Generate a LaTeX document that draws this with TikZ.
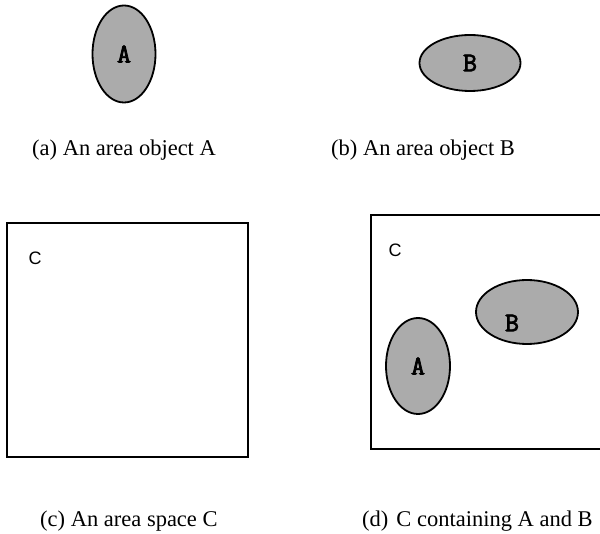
\documentclass[tikz,border=0pt]{standalone}
\usepackage{fontspec}
\setmainfont{Liberation Serif}
\newfontfamily\spacefont{Liberation Sans}
\newfontfamily\labelfont[FakeBold=3]{Latin Modern Mono}
\usetikzlibrary{shapes.geometric}
\tikzset{
	% area objects
	label text/.style={font=\labelfont\bfseries\fontsize{27}{27}\selectfont},
	area/.style={ellipse, draw, line width=1.8pt, fill=black!33, inner sep=0pt, label text},
	tall/.style={area, minimum width=63pt, minimum height=97pt},
	wide/.style={area, minimum width=101pt, minimum height=56pt},
	% area spaces
	space/.style={line width=1.3pt},
	spacename/.style={font=\spacefont\fontsize{18}{18}\selectfont},
	caption/.style={anchor=base west, inner sep=0pt, font=\fontsize{22.5}{22.5}\selectfont}
}
\begin{document}
\begin{tikzpicture}[x=1pt, y=-1pt]
	\useasboundingbox (0,0) rectangle (600,534);
	
	% (a) and (b)
	\node[tall] (A) at (124,54) {A};
	\node[wide] (B) at (470,63) {B};
	\node[caption] (capa) at (32,156) {(a) An area object A};
	\node[caption] (capb) at (331,156) {(b) An area object B};
	
	% (c)
	\draw[space] (7,223) rectangle (248,457);
	\node[spacename] (C) at (35,258) {C};
	\node[caption] (capc) at (40,526) {(c) An area space C};
	
	% (d)
	\coordinate (tr) at (608,215);
	\coordinate (br) at (608,449);
	\draw[space] (tr) -- (371,215) -- (371,449) -- (br);
	\node[spacename] (Cd) at (395,250) {C};
	\node[tall, minimum width=64pt, minimum height=96pt] (Ad) at (418,366) {A};
	\node[wide, minimum width=102pt, minimum height=64pt] (Bd) at (527,312) {};
	\node[label text] (Bdl) at (512,323) {B};
	\node[caption] (capd) at (362,526) {(d)\hspace{8pt}C containing A and B};
\end{tikzpicture}
\end{document}
